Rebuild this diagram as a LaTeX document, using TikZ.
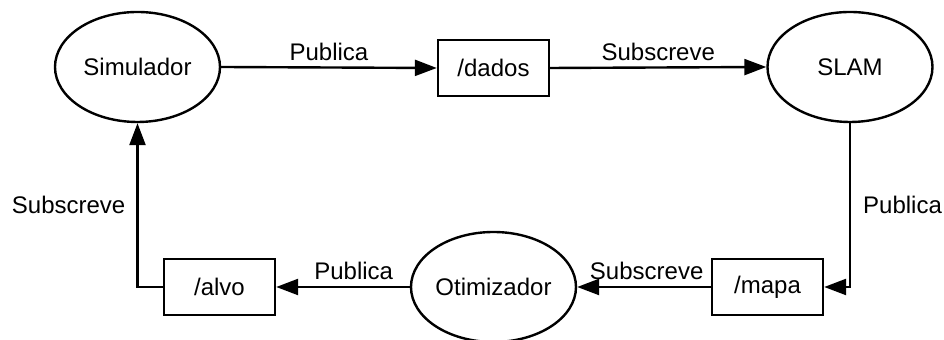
\documentclass[tikz,border=0pt]{standalone}
\usepackage{fontspec}
\setmainfont{Liberation Sans}
\usepackage{tikz}
\usetikzlibrary{
  % node shapes for the ROS nodes
  shapes.geometric,%
  arrows.meta,%
  positioning
}
\tikzset{>={Triangle[length=11pt,width=8pt]}}
\tikzset{font=\fontsize{12}{14}\selectfont}
\tikzset{rosnode/.style={ellipse, draw, line width=1.2pt, minimum width=82.5pt,
    minimum height=55pt, inner sep=0pt}}
\tikzset{topico/.style={rectangle, draw, line width=1.2pt, minimum width=55.5pt,
    minimum height=28pt, inner sep=0pt}}
\tikzset{fluxo/.style={->, line width=1.2pt}}
\tikzset{rotulo/.style={inner sep=3pt}}

\begin{document}
\begin{tikzpicture}[x=0.5pt, y=-0.5pt]
      \useasboundingbox (0, 0) rectangle (944, 340);%
      % nodes
      \node[rosnode] (sim) at (137.5, 67) {Simulador};%
      \node[rosnode] (slam) at (850, 67) {SLAM};%
      \node[rosnode] (otim) at (493.5, 287) {Otimizador};%
      % topics
      \node[topico] (dados) at (493.5, 68) {/dados};%
      \node[topico] (mapa) at (767.5, 287) {/mapa};%
      \node[topico] (alvo) at (219.5, 287) {/alvo};%
      % connections
      \draw[fluxo] (sim.east) -- node[rotulo, above] {Publica} (dados.west);%
      \draw[fluxo] (dados.east) -- node[rotulo, above] {Subscreve} (slam.west);%
      \draw[fluxo] (slam.south) |- node[rotulo, pos=0.25, right, inner sep=6pt] {Publica} (mapa.east);%
      \draw[fluxo] (mapa.west) -- node[rotulo, above, pos=0.48] {Subscreve} (otim.east);%
      \draw[fluxo] (otim.west) -- node[rotulo, above, pos=0.42] {Publica} (alvo.east);%
      \draw[fluxo] (alvo.west) -| node[rotulo, pos=0.75, left, inner sep=5.5pt] {Subscreve} (sim.south);%
    \end{tikzpicture}
\end{document}
